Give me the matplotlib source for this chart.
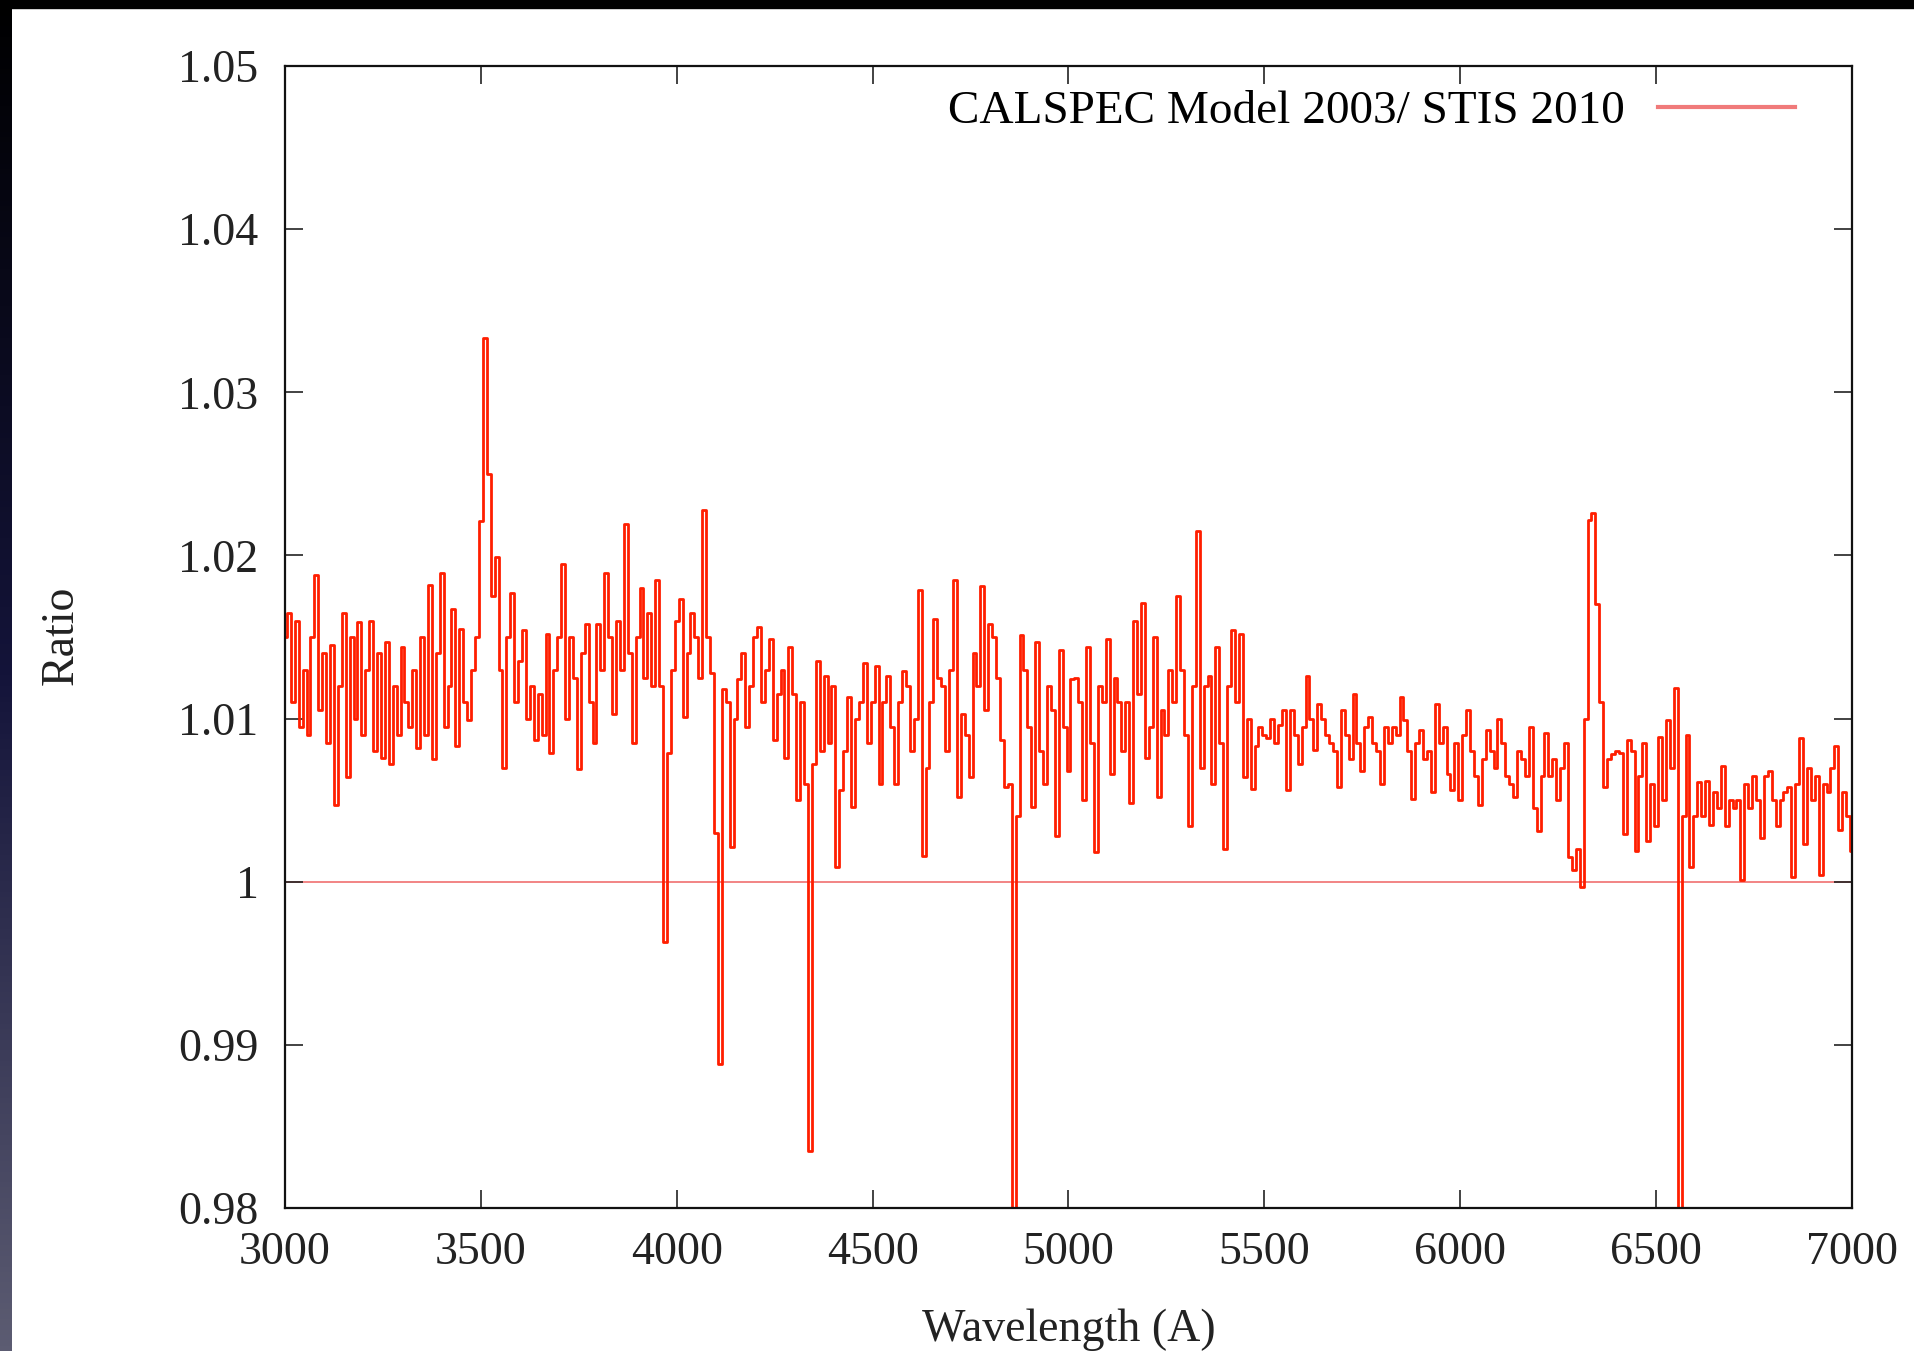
# Ratio of CALSPEC model (2003) to STIS (2010) spectrum, 3000-7000 A

import numpy as np
import matplotlib
matplotlib.use("Agg")
import matplotlib.pyplot as plt
from matplotlib.lines import Line2D
from matplotlib.patches import Rectangle
from matplotlib.colors import LinearSegmentedColormap

# wavelength grid (A)
wave_start = 3000
wave_step = 10

# ratio - 1, in units of 1e-4 in 10 A steps
ratio_3000_3570 = [
    150, 165, 110, 160, 95, 130, 90, 150, 188, 105,
    140, 85, 145, 47, 120, 165, 64, 150, 100, 159,
    90, 130, 160, 80, 140, 76, 147, 72, 120, 90,
    144, 110, 95, 130, 82, 150, 90, 182, 75, 140,
    189, 95, 120, 167, 83, 155, 110, 99, 130, 150,
    221, 333, 250, 175, 199, 130, 70, 150]
ratio_3580_4140 = [
    177, 110, 135, 154, 100, 120, 87, 115, 90, 152,
    79, 130, 150, 195, 100, 150, 125, 69, 140, 158,
    110, 85, 158, 130, 189, 150, 103, 160, 130, 219,
    140, 85, 150, 180, 125, 165, 120, 185, 120, -37,
    79, 130, 160, 173, 101, 140, 165, 150, 125, 228,
    150, 128, 30, -112, 118, 110, 21]
ratio_4150_4710 = [
    100, 124, 140, 95, 120, 150, 156, 110, 130, 149,
    87, 115, 130, 76, 144, 115, 50, 110, 60, -165,
    72, 135, 80, 126, 85, 120, 9, 56, 80, 113,
    46, 100, 110, 134, 85, 110, 132, 60, 110, 126,
    95, 60, 110, 129, 120, 80, 100, 179, 16, 70,
    110, 161, 125, 120, 80, 130, 185]
ratio_4720_5280 = [
    52, 103, 90, 64, 140, 120, 181, 105, 158, 150,
    125, 87, 58, 60, -260, 40, 151, 130, 95, 46,
    147, 80, 60, 120, 105, 28, 142, 95, 68, 124,
    125, 110, 50, 144, 85, 18, 120, 110, 149, 66,
    125, 110, 80, 110, 48, 160, 115, 171, 76, 95,
    150, 52, 105, 90, 130, 110, 175]
ratio_5290_5850 = [
    130, 90, 34, 120, 215, 70, 120, 126, 60, 144,
    85, 20, 120, 154, 110, 152, 64, 100, 57, 83,
    95, 90, 88, 100, 85, 96, 105, 56, 105, 90,
    72, 95, 126, 100, 81, 109, 100, 90, 85, 80,
    58, 105, 90, 75, 115, 85, 68, 95, 101, 85,
    80, 60, 95, 85, 95, 90, 113]
ratio_5860_6420 = [
    99, 80, 51, 85, 93, 75, 80, 55, 109, 85,
    95, 66, 56, 85, 50, 90, 105, 80, 65, 47,
    75, 93, 80, 70, 100, 85, 65, 60, 52, 80,
    75, 65, 95, 45, 31, 65, 91, 65, 75, 50,
    70, 85, 15, 7, 20, -3, 100, 222, 226, 170,
    110, 58, 75, 78, 80, 79, 29]
ratio_6430_7000 = [
    87, 80, 19, 65, 85, 25, 60, 34, 89, 50,
    99, 70, 119, -260, 40, 90, 9, 40, 61, 40,
    62, 35, 55, 45, 71, 34, 50, 45, 50, 1,
    60, 45, 65, 50, 27, 65, 68, 50, 34, 50,
    55, 58, 3, 60, 88, 23, 70, 50, 65, 4,
    60, 55, 70, 83, 32, 55, 40, 19]

x_ticks = [3000, 3500, 4000, 4500, 5000, 5500, 6000, 6500, 7000]
y_ticks = [0.98, 0.99, 1.00, 1.01, 1.02, 1.03, 1.04, 1.05]
y_ticklabels = ["0.98", "0.99", "1", "1.01", "1.02", "1.03", "1.04", "1.05"]
legend_label = "CALSPEC Model 2003/ STIS 2010"

offsets = np.array(ratio_3000_3570 + ratio_3580_4140 + ratio_4150_4710 +
                   ratio_4720_5280 + ratio_5290_5850 + ratio_5860_6420 +
                   ratio_6430_7000, dtype=float)
ratio = 1.0 + offsets * 1e-4
wave = wave_start + wave_step * np.arange(len(ratio))

plt.rcParams["font.family"] = ["Liberation Serif", "DejaVu Serif"]

fig = plt.figure(figsize=(19.15, 13.51), dpi=100)
ax = fig.add_axes([285 / 1915, 1 - 1208 / 1351, (1852 - 285) / 1915, (1208 - 66) / 1351])

ax.axhline(1.0, color="#f07070", lw=1.2, zorder=1)
ax.plot(wave, ratio, drawstyle="steps-mid", color="#ff1e00", lw=2.0, zorder=2)

ax.set_xlim(3000, 7000)
ax.set_ylim(0.98, 1.05)
ax.set_xticks(x_ticks)
ax.set_yticks(y_ticks)
ax.set_yticklabels(y_ticklabels)
ax.tick_params(direction="in", length=13, width=1.2, labelsize=33,
               top=True, right=True, colors="#222222")
ax.tick_params(axis="x", pad=17)
ax.tick_params(axis="y", pad=19)
for s in ax.spines.values():
    s.set_linewidth(1.6)
    s.set_color("#111111")

handle = Line2D([], [], color="#f07a7a", lw=3)
ax.legend([handle], [legend_label], loc="center right",
          bbox_to_anchor=(0.9636, 0.960), frameon=False, markerfirst=False,
          fontsize=34, handlelength=2.9, handletextpad=0.7,
          borderpad=0, borderaxespad=0)

fig.text(61 / 1915, 1 - 635 / 1351, "Ratio", rotation=90, ha="center",
         va="center", fontsize=33, color="#222222")
fig.text(1069 / 1915, 1 - 1341 / 1351, "Wavelength (A)", ha="center",
         va="baseline", fontsize=33, color="#222222")

# dark frame of the slide on the left and top
grad = np.linspace(0, 1, 256).reshape(-1, 1)
cmap = LinearSegmentedColormap.from_list("edge", ["#000000", "#14143a", "#5c5c72"])
edge = fig.add_axes([0, 0, 12 / 1915, 1])
edge.imshow(grad, aspect="auto", cmap=cmap)
edge.set_axis_off()
fig.patches.append(Rectangle((0, 1 - 8 / 1351), 1, 8 / 1351,
                             transform=fig.transFigure, color="black", zorder=5))

fig.savefig("out.png", dpi=100)
